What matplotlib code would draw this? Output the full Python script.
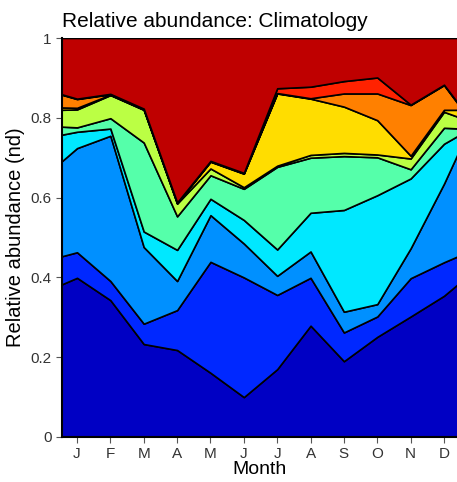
import matplotlib
matplotlib.use("Agg")
import matplotlib.pyplot as plt

plt.rcParams['font.family'] = ['Liberation Sans', 'DejaVu Sans']

# x positions: plot edge, Jan..Dec, plot edge
month_pos = [0.5, 1, 2, 3, 4, 5, 6, 7, 8, 9, 10, 11, 12, 12.5]
month_labels = ["J", "F", "M", "A", "M", "J", "J", "A", "S", "O", "N", "D"]

# relative abundance of each group (bottom to top)
grp1 = [0.381, 0.399, 0.343, 0.233, 0.218, 0.161, 0.100, 0.170, 0.279, 0.190, 0.251, 0.302, 0.354, 0.389]
grp2 = [0.071, 0.064, 0.048, 0.051, 0.100, 0.278, 0.300, 0.186, 0.120, 0.072, 0.051, 0.096, 0.084, 0.067]
grp3 = [0.236, 0.261, 0.364, 0.192, 0.073, 0.117, 0.085, 0.048, 0.066, 0.052, 0.031, 0.075, 0.197, 0.270]
grp4 = [0.069, 0.041, 0.018, 0.039, 0.078, 0.041, 0.059, 0.066, 0.097, 0.255, 0.273, 0.175, 0.100, 0.033]
grp5 = [0.021, 0.011, 0.026, 0.223, 0.084, 0.059, 0.078, 0.207, 0.138, 0.135, 0.095, 0.023, 0.040, 0.014]
grp6 = [0.042, 0.045, 0.058, 0.082, 0.032, 0.017, 0.004, 0.003, 0.007, 0.008, 0.007, 0.027, 0.040, 0.027]
grp7 = [0.006, 0.004, 0.001, 0.001, 0.001, 0.017, 0.034, 0.181, 0.141, 0.116, 0.086, 0.007, 0.005, 0.020]
grp8 = [0.033, 0.022, 0.001, 0.001, 0.001, 0.001, 0.001, 0.001, 0.001, 0.033, 0.067, 0.127, 0.062, 0.006]
grp9 = [0.001, 0.001, 0.001, 0.001, 0.001, 0.001, 0.001, 0.012, 0.029, 0.031, 0.040, 0.001, 0.001, 0.002]
grp10 = [0.140, 0.152, 0.140, 0.177, 0.412, 0.308, 0.338, 0.126, 0.122, 0.108, 0.099, 0.167, 0.117, 0.172]

colours = ["#0000C4", "#0028FF", "#0090FF", "#00E8FF", "#55FFAA",
           "#BBFF44", "#FFDD00", "#FF8000", "#FF2200", "#BF0000"]

fig = plt.figure(figsize=(4.57, 4.82), dpi=100)
ax = fig.add_axes([62 / 457, 45 / 482, 1 - 62 / 457, 399 / 482])

ax.stackplot(month_pos, grp1, grp2, grp3, grp4, grp5, grp6, grp7, grp8, grp9, grp10,
             colors=colours, edgecolor="black", linewidth=1.2)

ax.set_xlim(0.55, 12.39)
ax.set_ylim(0, 1)
ax.set_xticks(range(1, 13))
ax.set_xticklabels(month_labels)
ax.set_yticks([0, 0.2, 0.4, 0.6, 0.8, 1])
ax.set_yticklabels(["0", "0.2", "0.4", "0.6", "0.8", "1"])
ax.tick_params(colors="#555555", labelcolor="#333333", labelsize=11, length=4)

for side in ["top", "right"]:
    ax.spines[side].set_visible(False)
ax.spines["left"].set_linewidth(1.5)
ax.spines["bottom"].set_linewidth(1.5)

ax.set_xlabel("Month", fontsize=14, labelpad=0)
ax.set_ylabel("Relative abundance (nd)", fontsize=14.5, labelpad=4)
ax.set_title("Relative abundance: Climatology", fontsize=15, loc="left", pad=8)

fig.savefig("out.png", dpi=100)
